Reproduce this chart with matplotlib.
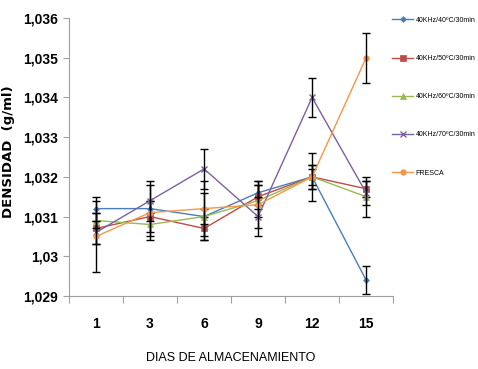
import matplotlib
matplotlib.use("Agg")
import matplotlib.pyplot as plt
from matplotlib.ticker import FuncFormatter, FixedLocator

# data
dias = ['1', '3', '6', '9', '12', '15']
series = ['40KHz/40ºC/30min', '40KHz/50ºC/30min', '40KHz/60ºC/30min',
          '40KHz/70ºC/30min', 'FRESCA']
d40 = [1.0312, 1.0312, 1.0310, 1.0316, 1.0320, 1.0294]
d50 = [1.0307, 1.0310, 1.0307, 1.0315, 1.0320, 1.0317]
d60 = [1.0309, 1.0308, 1.0310, 1.0314, 1.0320, 1.0315]
d70 = [1.0306, 1.0314, 1.0322, 1.0310, 1.0340, 1.0316]
fresca = [1.0305, 1.0311, 1.0312, 1.0313, 1.0320, 1.0350]
e40 = [0.0003, 0.0002, 0.0002, 0.0003, 0.0003, 0.00035]
e50 = [0.0004, 0.0004, 0.0003, 0.0003, 0.0002, 0.0002]
e60 = [0.0002, 0.0003, 0.0006, 0.0004, 0.0006, 0.0005]
e70 = [0.0003, 0.0005, 0.0005, 0.0005, 0.0005, 0.0003]
efresca = [0.0009, 0.0007, 0.0007, 0.0006, 0.0003, 0.00063]

values = [d40, d50, d60, d70, fresca]
errors = [e40, e50, e60, e70, efresca]
colors = ['#4A7EBB', '#BE4B48', '#98B954', '#7D60A0', '#F79646']
markers = ['D', 's', '^', 'x', 'o']
msizes = [3, 4.5, 4.5, 5, 4]

plt.rcParams['font.family'] = ['Liberation Sans', 'DejaVu Sans']

fig = plt.figure(figsize=(4.78, 3.69), dpi=100)
ax = fig.add_axes([0.1444, 0.198, 0.678, 0.753])

x = list(range(len(dias)))
for vals, errs, c, m, ms, name in zip(values, errors, colors, markers, msizes, series):
    ax.plot(x, vals, color=c, marker=m, markersize=ms, linewidth=1, label=name,
            markeredgewidth=1 if m == 'x' else 0.5)
    ax.errorbar(x, vals, yerr=errs, fmt='none', ecolor='black', elinewidth=1,
                capsize=3, capthick=1)

ax.set_ylim(1.029, 1.036)
ax.set_xlim(-0.5, 5.5)
ax.yaxis.set_major_locator(FixedLocator([1.029 + 0.001 * i for i in range(8)]))
ax.yaxis.set_major_formatter(FuncFormatter(
    lambda v, p: ('%.3f' % v).rstrip('0').replace('.', ',')))

# excel-style category axis: ticks between categories, labels centered
ax.set_xticks([i - 0.5 for i in range(len(dias) + 1)])
ax.set_xticklabels([])
ax.set_xticks(x, minor=True)
ax.set_xticklabels(dias, minor=True, fontsize=10, fontweight='bold')
ax.tick_params(axis='x', which='minor', length=0, pad=15)
ax.tick_params(axis='x', which='major', length=5, color='#A0A0A0', direction='out')
ax.tick_params(axis='y', length=4, color='#A0A0A0', labelsize=10, pad=4)
for lab in ax.get_yticklabels():
    lab.set_fontweight('bold')

for s in ['top', 'right']:
    ax.spines[s].set_visible(False)
for s in ['left', 'bottom']:
    ax.spines[s].set_color('#A0A0A0')

ax.set_ylabel('DENSIDAD  (g/ml)', fontsize=9.5, fontweight='bold',
              family=['DejaVu Sans'])
ax.yaxis.set_label_coords(-0.167, 0.52)
ax.set_xlabel('DIAS DE ALMACENAMIENTO', fontsize=9, labelpad=15)

leg = ax.legend(loc='upper left', bbox_to_anchor=(0.998, 1.005), frameon=False,
                fontsize=5, labelspacing=4.5, handlelength=3.0, handletextpad=0.3,
                borderaxespad=0, borderpad=0.0)

fig.savefig('out.png', dpi=100)
